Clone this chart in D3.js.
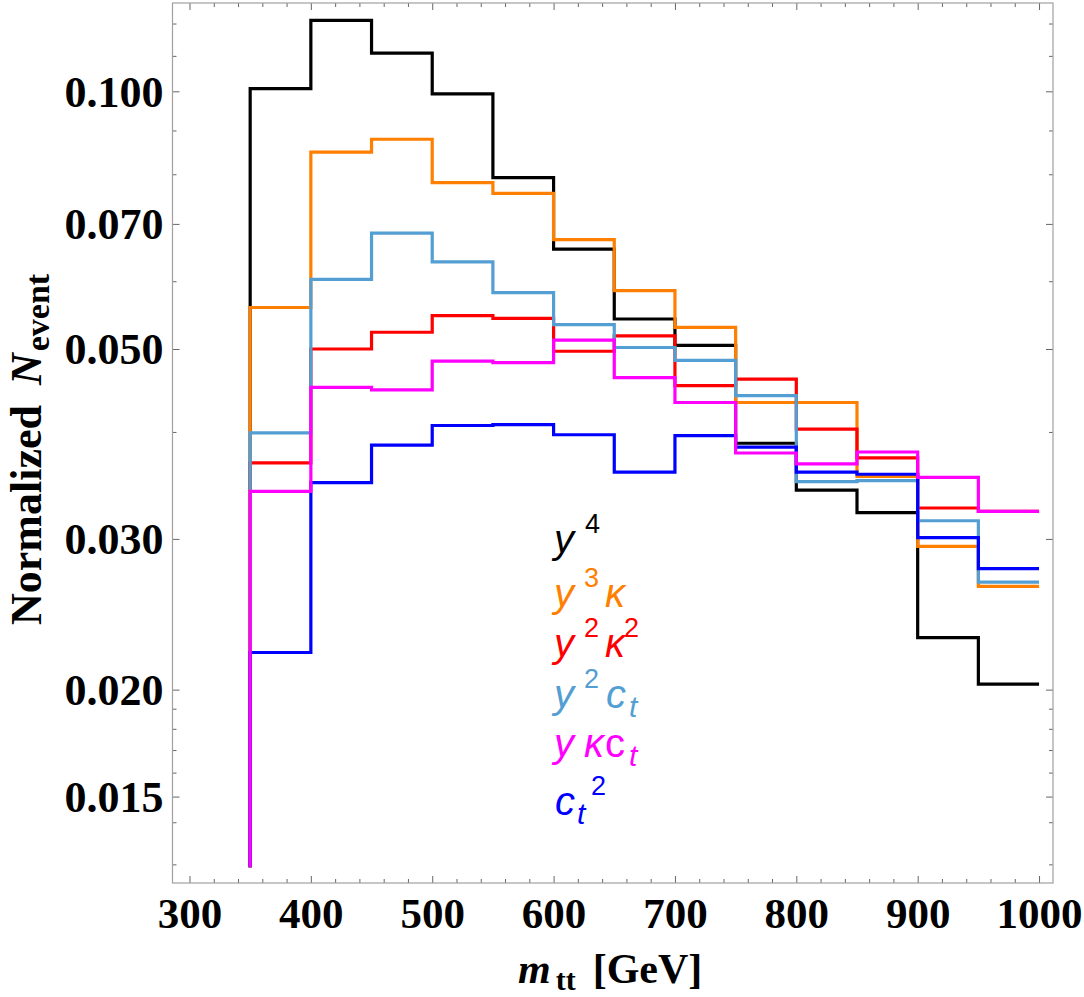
<!DOCTYPE html>
<html>
<head>
<meta charset="utf-8">
<script src="https://cdn.jsdelivr.net/npm/d3@7"></script>
<style>
  html, body { margin: 0; padding: 0; background: #fff; }
  svg { display: block; }
</style>
</head>
<body>
<svg id="chart" width="1084" height="997"></svg>
<script>
// ---------------- DATA ----------------
const binEdges = [350, 400, 450, 500, 550, 600, 650, 700, 750, 800, 850, 900, 950, 1000];
const baseValue = 0.0124;

const seriesY4   = [0.1007, 0.1210, 0.1108, 0.0993, 0.0793, 0.0654, 0.0542, 0.0505, 0.0388, 0.0342, 0.0322, 0.0230, 0.0203];
const seriesY3K  = [0.0559, 0.0849, 0.0879, 0.0782, 0.0760, 0.0671, 0.0585, 0.0530, 0.0433, 0.0433, 0.0355, 0.0294, 0.0264];
const seriesY2K2 = [0.0368, 0.0500, 0.0523, 0.0547, 0.0543, 0.0497, 0.0518, 0.0453, 0.0461, 0.0403, 0.0373, 0.0326, 0.0323];
const seriesY2Ct = [0.0399, 0.0603, 0.0683, 0.0632, 0.0582, 0.0534, 0.0502, 0.0485, 0.0441, 0.0350, 0.0351, 0.0315, 0.0267];
const seriesYKCt = [0.0341, 0.0451, 0.0448, 0.0484, 0.0482, 0.0512, 0.0463, 0.0433, 0.0378, 0.0367, 0.0379, 0.0354, 0.0323];
const seriesCt2  = [0.0221, 0.0349, 0.0386, 0.0407, 0.0408, 0.0397, 0.0359, 0.0396, 0.0384, 0.0359, 0.0357, 0.0301, 0.0277];

const xMajorTicks = [300, 400, 500, 600, 700, 800, 900, 1000];
const xTickLabels = ["300", "400", "500", "600", "700", "800", "900", "1000"];
const yMajorTicks = [0.015, 0.02, 0.03, 0.05, 0.07, 0.1];
const yTickLabels = ["0.015", "0.020", "0.030", "0.050", "0.070", "0.100"];
const yMinorTicks = [0.0125, 0.014, 0.016, 0.017, 0.018, 0.019, 0.04, 0.06, 0.08, 0.09, 0.11, 0.12];

// ---------------- LAYOUT ----------------
const svg = d3.select("#chart");
const frame = { left: 172.5, right: 1053, top: 3, bottom: 883 };

const x = d3.scaleLinear().domain([286, 1011.5]).range([frame.left, frame.right]);
const y = d3.scaleLog().domain([0.011889, 0.12681]).range([frame.bottom, frame.top]);

const xMinorTicks = d3.range(300, 1012, 20).filter(v => v % 100 !== 0);

// series draw order (later on top)
const series = [
  { values: seriesY4,   color: "#000000" },
  { values: seriesY3K,  color: "#ff7f00" },
  { values: seriesY2K2, color: "#ff0000" },
  { values: seriesY2Ct, color: "#539ed2" },
  { values: seriesCt2,  color: "#0000ff" },
  { values: seriesYKCt, color: "#ff00ff" }
];

// ---------------- FRAME & TICKS ----------------
const tickColor = "#666";
const frameColor = "#a0a0a0";

function styleAxis(g) {
  g.select(".domain").remove();
  g.selectAll(".tick line").attr("stroke", tickColor).attr("stroke-width", 1);
}

const fmtX = (d) => xTickLabels[xMajorTicks.indexOf(d)];
const fmtY = (d) => yTickLabels[yMajorTicks.indexOf(d)];
const serif = "'Liberation Serif', 'Times New Roman', serif";

// bottom
svg.append("g").attr("transform", `translate(0,${frame.bottom})`)
  .call(d3.axisBottom(x).tickValues(xMinorTicks).tickSize(-4).tickFormat(""))
  .call(styleAxis);
const gxb = svg.append("g").attr("transform", `translate(0,${frame.bottom})`)
  .call(d3.axisBottom(x).tickValues(xMajorTicks).tickSize(-7).tickPadding(0).tickFormat(fmtX))
  .call(styleAxis);
gxb.selectAll(".tick text")
  .attr("y", 45).attr("dy", null)
  .attr("font-family", serif)
  .attr("font-weight", "bold").attr("font-size", 43).attr("fill", "#000");

// top
svg.append("g").attr("transform", `translate(0,${frame.top})`)
  .call(d3.axisTop(x).tickValues(xMinorTicks).tickSize(-4).tickFormat(""))
  .call(styleAxis);
svg.append("g").attr("transform", `translate(0,${frame.top})`)
  .call(d3.axisTop(x).tickValues(xMajorTicks).tickSize(-7).tickFormat(""))
  .call(styleAxis);

// left
svg.append("g").attr("transform", `translate(${frame.left},0)`)
  .call(d3.axisLeft(y).tickValues(yMinorTicks).tickSize(-4).tickFormat(""))
  .call(styleAxis);
const gyl = svg.append("g").attr("transform", `translate(${frame.left},0)`)
  .call(d3.axisLeft(y).tickValues(yMajorTicks).tickSize(-7).tickFormat(fmtY))
  .call(styleAxis);
gyl.selectAll(".tick text")
  .attr("x", -9).attr("dy", 15)
  .attr("text-anchor", "end")
  .attr("font-family", serif)
  .attr("font-weight", "bold").attr("font-size", 44).attr("fill", "#000");

// right
svg.append("g").attr("transform", `translate(${frame.right},0)`)
  .call(d3.axisRight(y).tickValues(yMinorTicks).tickSize(-4).tickFormat(""))
  .call(styleAxis);
svg.append("g").attr("transform", `translate(${frame.right},0)`)
  .call(d3.axisRight(y).tickValues(yMajorTicks).tickSize(-7).tickFormat(""))
  .call(styleAxis);

// frame rectangle
svg.append("rect")
  .attr("x", frame.left).attr("y", frame.top)
  .attr("width", frame.right - frame.left).attr("height", frame.bottom - frame.top)
  .attr("fill", "none").attr("stroke", frameColor).attr("stroke-width", 1.2);

// ---------------- HISTOGRAM STEPS ----------------
const line = d3.line()
  .x(d => x(d[0]))
  .y(d => y(d[1]))
  .curve(d3.curveStepAfter);

const plot = svg.append("g");
series.forEach(s => {
  const pts = [[binEdges[0], baseValue]];
  s.values.forEach((v, i) => pts.push([binEdges[i], v]));
  pts.push([binEdges[binEdges.length - 1], s.values[s.values.length - 1]]);
  plot.append("path")
    .attr("d", line(pts))
    .attr("fill", "none")
    .attr("stroke", s.color)
    .attr("stroke-width", 3.2)
    .attr("stroke-linejoin", "miter");
});

// ---------------- AXIS TITLES ----------------
const yTitle = svg.append("text")
  .attr("transform", "translate(41,625) rotate(-90)")
  .attr("font-family", serif).attr("font-weight", "bold").attr("font-size", 44).attr("fill", "#000");
yTitle.append("tspan").text("Normalized");
yTitle.append("tspan").attr("dx", 20).attr("font-style", "italic").text("N");
yTitle.append("tspan").attr("dx", 2).attr("dy", 8).attr("font-size", 34).text("event");

const xTitle = svg.append("text")
  .attr("x", 518).attr("y", 983)
  .attr("font-family", serif).attr("font-weight", "bold").attr("font-size", 42).attr("fill", "#000");
xTitle.append("tspan").attr("font-style", "italic").text("m");
xTitle.append("tspan").attr("dx", 5).attr("dy", 7).attr("font-size", 30).text("tt");
xTitle.append("tspan").attr("dx", 17).attr("dy", -7).text("[GeV]");

// ---------------- LEGEND ----------------
const legendItems = [
  { color: "#000000", parts: [["y", "m"], ["4", "sup"]] },
  { color: "#ff7f00", parts: [["y", "m"], ["3", "sup"], ["κ", "m"]] },
  { color: "#ff0000", parts: [["y", "m"], ["2", "sup"], ["κ", "m"], ["2", "sup"]] },
  { color: "#539ed2", parts: [["y", "m"], ["2", "sup"], ["c", "m"], ["t", "sub"]] },
  { color: "#ff00ff", parts: [["y", "m"], ["κ", "m"], ["c", "up"], ["t", "sub"]] },
  { color: "#0000ff", parts: [["c", "m"], ["t", "sub"], ["2", "sup"]] }
];
const legendX = 554;
const legendBaselines = [553, 607, 657, 708, 757, 815];
const partOffsets = [
  [0, 31],
  [0, 30, 51],
  [0, 30, 51, 70],
  [0, 30, 52, 75],
  [0, 30, 51, 75],
  [1, 23, 37]
];
const sans = "'Liberation Sans', Arial, sans-serif";
const legend = svg.append("g");
legendItems.forEach((item, i) => {
  item.parts.forEach((p, j) => {
    const kind = p[1];
    let size = 40, dy = 0, style = "italic";
    if (kind === "sup") { size = 27; dy = -20; style = "normal"; }
    if (kind === "sub") { size = 30; dy = 9; }
    if (kind === "up") { style = "normal"; }
    legend.append("text")
      .attr("x", legendX + partOffsets[i][j])
      .attr("y", legendBaselines[i] + dy)
      .attr("font-family", sans)
      .attr("font-style", style)
      .attr("font-size", size)
      .attr("fill", item.color)
      .text(p[0]);
  });
});
</script>
</body>
</html>
